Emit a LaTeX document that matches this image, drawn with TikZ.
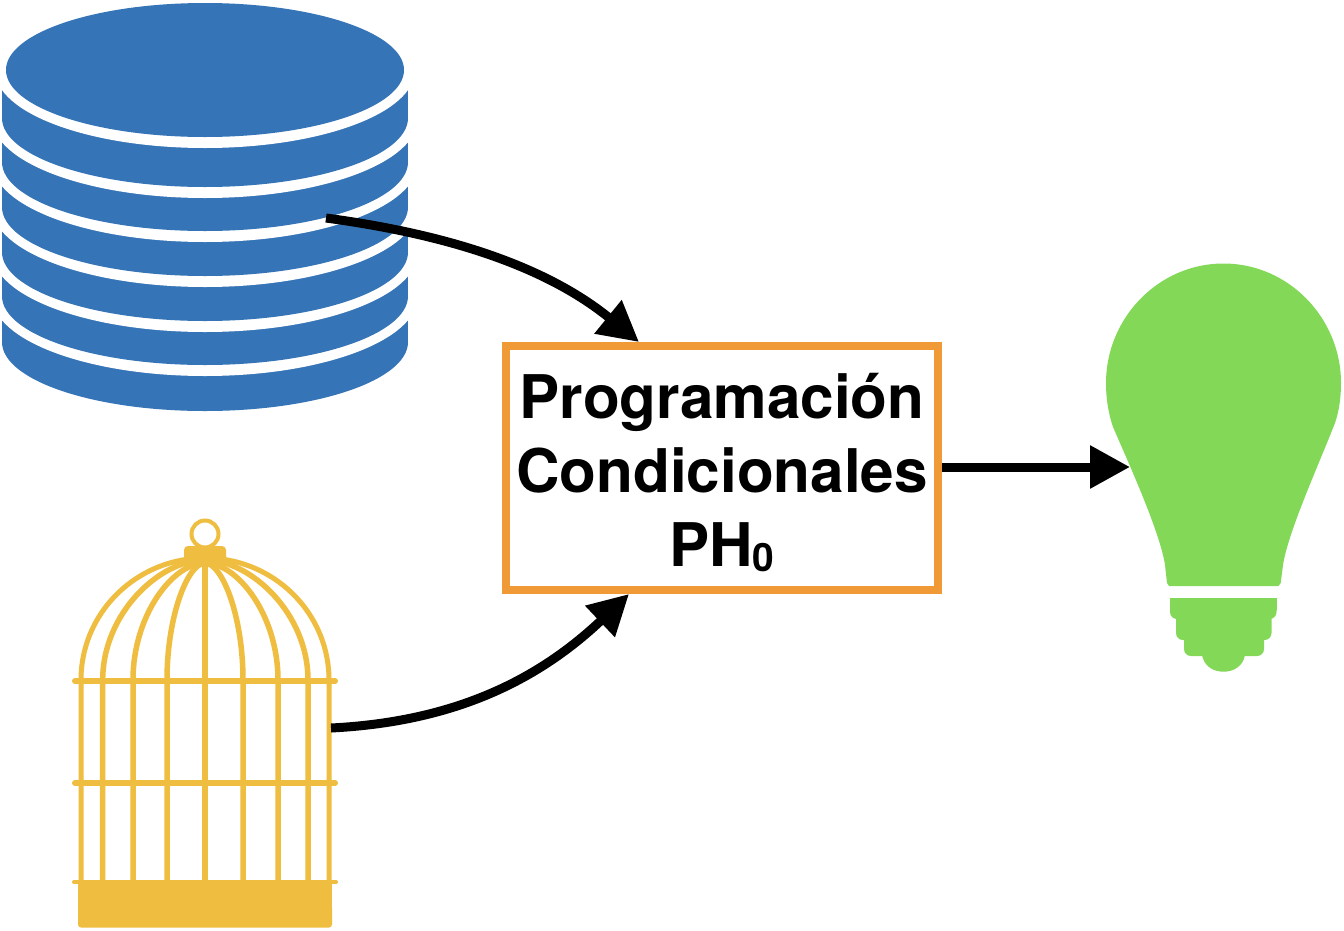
\documentclass[tikz,border=0pt]{standalone}
\usepackage{fontspec}
\setmainfont{TeX Gyre Heros}
\usetikzlibrary{arrows.meta}
\definecolor{dbblue}{HTML}{3574B6}
\definecolor{boxorange}{HTML}{F09A37}
\definecolor{bulbgreen}{HTML}{84D858}
\definecolor{cageyellow}{HTML}{EFBD40}
\tikzset{
  conn/.style={line width=9pt,draw=black,-{Triangle[length=40pt,width=41pt]}},
  bar/.style={draw=cageyellow,line width=5.5pt},
  hbar/.style={draw=cageyellow,line width=6pt,line cap=round},
  procbox/.style={draw=boxorange,line width=8pt,fill=white,minimum width=432pt,minimum height=244pt,inner sep=0pt,align=center,font=\fontsize{60.2}{74}\selectfont\bfseries}
}
\begin{document}
\begin{tikzpicture}[x=1pt,y=-1pt]
\useasboundingbox (0,0) rectangle (1344,930);
\fill[white] (0,0) rectangle (1344,930);
% database
\foreach \c in {342,296,252,207,162,118}{
  \fill[dbblue] (2,\c-50) rectangle (408,\c);
  \fill[dbblue] (205,\c) ellipse [x radius=203,y radius=69];
  \ifnum\c>118\relax
    \pgfmathtruncatemacro{\p}{\c==342?296:(\c==296?252:(\c==252?207:(\c==207?162:118)))}
    \fill[white] (205,\p) ellipse [x radius=213,y radius=80];
  \else
    \fill[white] (205,70) ellipse [x radius=210,y radius=78];
  \fi
}
\fill[dbblue] (205,70) ellipse [x radius=199,y radius=67];
% cage
\draw[draw=cageyellow,line width=4pt] (205,534) circle [radius=13.5];
\foreach \x in {133,167,243,278}{
  \draw[bar] (\x,882) -- (\x,680) .. controls (\x,{680-.5523*117}) and ({205-.4477*(205-\x)},563) .. (205,563);
}
\foreach \x in {102.7,308}{
  \draw[bar] (\x,882) -- (\x,680) .. controls (\x,{680-.5523*120}) and ({205-.4477*(205-\x)},560) .. (205,560);
}
\foreach \x in {81,329}{
  \draw[bar,line width=5pt] (\x,882) -- (\x,680) .. controls (\x,{680-.5523*122}) and ({205-.5523*(205-\x)},558) .. (205,558);
}
\draw[bar,line width=6pt] (205,563) -- (205,882);
\fill[cageyellow,rounded corners=4pt] (184,546) rectangle (226,566);
\fill[cageyellow] (184,556) -- (226,556) -- (226,560) -- (205,566) -- (184,560) -- cycle;
\draw[hbar] (75,681) -- (335,681);
\draw[hbar] (75,783) -- (335,783);
\draw[hbar,line width=4pt] (74,882) -- (336,882);
\fill[cageyellow] (78,880) rectangle (332,915);
\fill[cageyellow,rounded corners=3pt] (78,905) rectangle (332,927.5);
% bulb
\fill[bulbgreen] (1113,427) .. controls (1108.5,414) and (1106,399) .. (1106,383)
  .. controls (1106,318) and (1158.5,263.5) .. (1223.5,263.5)
  .. controls (1288.5,263.5) and (1341,318) .. (1341,383)
  .. controls (1341,398) and (1339,411) .. (1335,423)
  .. controls (1319,464) and (1288,532) .. (1283,565)
  -- (1280.7,583) -- (1278.5,586) -- (1169,586) -- (1167,583) -- (1165,565)
  .. controls (1160,532) and (1129,464) .. (1113,427) -- cycle;
\fill[bulbgreen] (1170,598) rectangle (1276.5,610);
\fill[bulbgreen,rounded corners=7pt] (1170,600) rectangle (1276.5,619);
\fill[bulbgreen,rounded corners=7pt] (1176,610) rectangle (1271.5,640);
\fill[bulbgreen,rounded corners=7pt] (1184,630) rectangle (1264,656);
\fill[bulbgreen] (1202,655) .. controls (1204,666) and (1213,671.7) .. (1223.5,671.7) .. controls (1234,671.7) and (1243,666) .. (1245,655) -- cycle;
% box
\node[procbox] (box) at (722,468) {\rule{0pt}{54pt}Programación\\Condicionales\\PH\raisebox{-5pt}{\fontsize{39}{39}\selectfont 0}};
% connectors
\coordinate (dbout) at (326,218);
\coordinate (boxtop) at (639,342);
\coordinate (cageout) at (331,728);
\coordinate (boxbottom) at (629,594);
\coordinate (bulbin) at (1130,467);
\draw[conn] (dbout) .. controls (430,232) and (538,260) .. (boxtop);
\draw[conn] (cageout) .. controls (450,722) and (535,683) .. (boxbottom);
\draw[conn] (box.east |- bulbin) -- (bulbin);
\end{tikzpicture}
\end{document}
